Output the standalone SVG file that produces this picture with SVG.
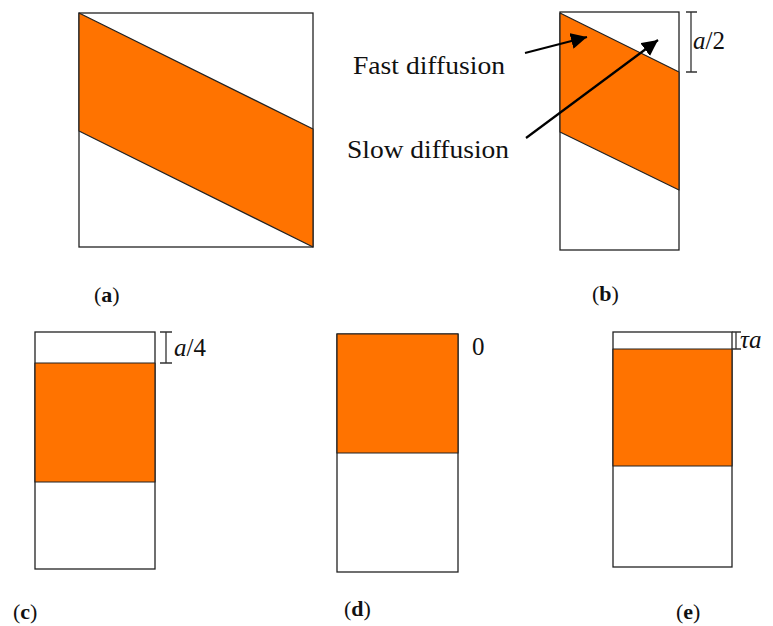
<svg xmlns="http://www.w3.org/2000/svg" width="773" height="626" viewBox="0 0 773 626">
<style>
.box{fill:#fff;stroke:#222;stroke-width:1.3}
.band{fill:#FF7300;stroke:#222;stroke-width:1.2;stroke-linejoin:round}
.dim{stroke:#333;stroke-width:1.3;fill:none}
.arr{stroke:#000;stroke-width:2.2;fill:none}
.t{font-family:"Liberation Serif","DejaVu Serif",serif;fill:#111}
.lbl{font-family:"Liberation Serif","DejaVu Serif",serif;font-size:22px;fill:#111}
</style>
<defs>
<marker id="ah" markerUnits="userSpaceOnUse" markerWidth="18" markerHeight="16" refX="16" refY="8" orient="auto">
<path d="M0,0 L16,8 L0,16 Z" fill="#000"/>
</marker>
</defs>
<g id="panel-a">
<rect class="box" x="79" y="13" width="234" height="234"/>
<polygon class="band" points="79,13 313,129 313,247 79,131"/>
<text class="lbl" x="94" y="302">(<tspan font-weight="bold">a</tspan>)</text>
</g>
<g id="panel-b">
<rect class="box" x="560" y="12" width="119" height="238"/>
<polygon class="band" points="560,13 679,72 679,190 560,132"/>
<path class="dim" d="M691,12 V72 M686,12 H697 M686,72 H697"/>
<text class="t" x="693" y="49" font-size="25"><tspan font-style="italic">a</tspan>/2</text>
<text class="lbl" x="592" y="301">(<tspan font-weight="bold">b</tspan>)</text>
</g>
<g id="label-fast">
<text class="t" x="353" y="74" font-size="25" textLength="152" lengthAdjust="spacingAndGlyphs">Fast diffusion</text>
</g>
<g id="label-slow">
<text class="t" x="347" y="158" font-size="25" textLength="162" lengthAdjust="spacingAndGlyphs">Slow diffusion</text>
</g>
<g id="panel-c">
<rect class="box" x="35" y="332" width="120" height="237"/>
<rect class="band" x="35" y="363" width="120" height="119"/>
<path class="dim" d="M166,332 V363 M160,332 H172 M160,363 H172"/>
<text class="t" x="174" y="356" font-size="25"><tspan font-style="italic">a</tspan>/4</text>
<text class="lbl" x="13" y="619">(<tspan font-weight="bold">c</tspan>)</text>
</g>
<g id="panel-d">
<rect class="box" x="337" y="334" width="121" height="238"/>
<rect class="band" x="337" y="334" width="121" height="119"/>
<text class="t" x="472" y="355" font-size="25">0</text>
<text class="lbl" x="344" y="616">(<tspan font-weight="bold">d</tspan>)</text>
</g>
<g id="panel-e">
<rect class="box" x="613" y="332" width="119" height="235"/>
<rect class="band" x="613" y="349" width="119" height="117"/>
<path class="dim" d="M736,332 V349 M732,332 H741 M732,349 H741"/>
<text class="t" x="740" y="348" font-size="25" font-style="italic">τa</text>
<text class="lbl" x="676" y="619">(<tspan font-weight="bold">e</tspan>)</text>
</g>
<g id="connectors">
<line class="arr" x1="525" y1="53" x2="587" y2="37" marker-end="url(#ah)"/>
<line class="arr" x1="526" y1="138" x2="658" y2="40" marker-end="url(#ah)"/>
</g>
</svg>
